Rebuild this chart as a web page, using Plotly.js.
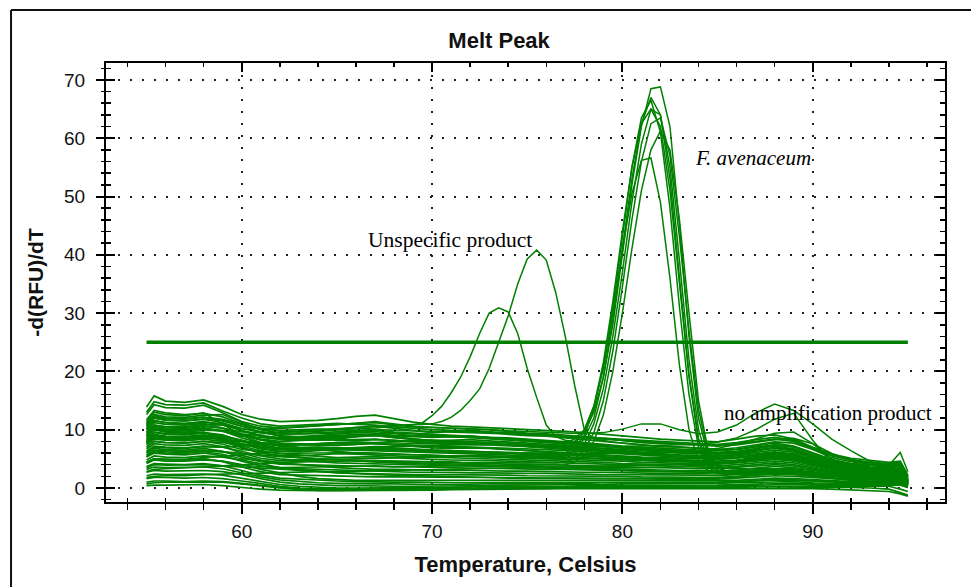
<!DOCTYPE html>
<html><head><meta charset="utf-8">
<script src="https://cdn.plot.ly/plotly-3.0.1.min.js"></script>
<style>html,body{margin:0;padding:0;background:#fff}#chart{width:971px;height:587px}</style>
</head><body><div id="chart"></div>
<script>
// Temperature grids (Celsius)
const T_BASE = [55,55.4,56,57,58,59,60,61,62,63,64,65,66,67,68,69,70,71,72,73,74,75,76,77,78,79,80,81,82,83,84,85,86,87,88,89,90,91,92,93,94,94.6,95];
const T_FINE = [55,55.4,56,57,58,59,60,62,64,66,67,68,68.5,69,69.5,70,70.5,71,71.5,72,72.5,73,73.5,74,74.5,75,75.5,76,76.5,77,77.5,78,78.5,79,79.5,80,80.5,81,81.5,82,82.5,83,83.5,84,84.5,85,85.5,86,87,88,89,90,91,92,93,94,94.6,95];

// Background (no product) melt curves, -d(RFU)/dT on T_BASE
const bg01 = [13.9,15.8,14.9,14.7,15.1,14.0,12.6,11.8,11.4,11.5,11.6,11.9,12.3,12.5,11.9,11.3,10.9,10.6,10.5,10.4,10.2,10.0,9.9,9.7,9.5,9.2,8.9,8.6,8.4,8.2,8.0,7.9,8.4,8.9,9.1,8.4,7.0,5.8,5.1,4.7,4.4,4.6,2.2];
const bg02 = [12.6,14.3,13.8,13.7,14.2,12.9,11.4,10.6,10.3,10.5,10.8,11.0,11.1,11.2,10.8,10.5,10.4,10.3,10.2,10.0,9.7,9.4,9.3,9.1,8.8,8.5,8.1,7.8,7.6,7.5,7.4,7.3,7.6,8.0,8.4,8.0,6.8,5.5,4.8,4.3,4.1,4.3,2.0];
const bg03 = [11.7,13.3,12.9,12.6,12.8,12.2,11.0,10.2,9.8,9.6,9.7,10.1,10.4,10.6,10.3,9.9,9.5,9.7,9.9,9.6,9.2,9.0,8.9,8.6,8.3,8.0,7.6,7.3,7.1,7.0,6.8,6.6,6.9,7.4,7.9,7.7,6.6,5.2,4.5,4.1,3.9,4.1,1.8];
const bg04 = [11.1,12.6,12.2,12.1,12.5,12.6,11.3,10.0,9.4,9.3,9.5,9.6,9.8,9.9,9.6,9.4,9.2,9.0,8.8,8.7,8.6,8.4,8.2,8.0,7.8,7.5,7.2,7.0,6.8,6.6,6.5,6.4,6.6,7.0,7.4,7.0,5.9,4.8,4.2,3.9,3.7,3.9,1.6];
const bg05 = [10.6,12.0,11.7,11.5,11.8,11.6,10.6,9.6,8.9,8.8,9.0,9.3,9.5,9.4,9.0,8.8,8.7,8.8,8.9,8.6,8.3,8.1,7.9,7.7,7.4,7.1,6.8,6.6,6.4,6.3,6.2,6.1,6.3,6.8,7.2,6.7,5.6,4.6,4.0,3.6,3.5,3.7,1.5];
const bg06 = [10.2,11.6,11.2,11.0,11.3,11.0,9.8,8.9,8.4,8.5,8.7,8.6,8.8,9.0,8.7,8.3,8.1,8.2,8.3,8.1,7.9,7.8,7.6,7.3,7.0,6.8,6.5,6.3,6.1,6.0,5.9,5.8,6.0,6.4,6.9,6.4,5.3,4.4,3.8,3.4,3.3,3.4,1.4];
const bg07 = [9.9,11.2,10.9,10.8,11.1,10.3,9.2,8.4,8.0,8.1,8.3,8.2,8.1,8.3,8.2,7.9,7.7,7.6,7.7,7.6,7.4,7.3,7.1,6.9,6.7,6.5,6.2,6.0,5.8,5.7,5.6,5.5,5.7,6.1,6.5,6.1,5.1,4.2,3.6,3.2,3.1,3.2,1.3];
const bg08 = [9.5,10.8,10.5,10.5,10.9,10.8,9.9,9.0,8.6,8.7,8.8,9.0,9.2,9.1,8.8,8.4,8.1,7.9,7.8,7.6,7.4,7.2,7.0,6.8,6.5,6.3,6.0,5.8,5.6,5.5,5.4,5.3,5.5,5.9,6.2,5.8,4.9,4.0,3.5,3.1,2.9,3.0,1.2];
const bg09 = [9.2,10.4,10.1,10.0,10.3,9.8,8.6,7.7,7.3,7.4,7.6,7.8,7.7,7.6,7.5,7.4,7.3,7.2,7.0,6.9,6.8,6.7,6.6,6.4,6.2,6.0,5.8,5.6,5.4,5.3,5.2,5.1,5.3,5.6,6.0,5.6,4.7,3.8,3.3,2.9,2.8,2.9,1.2];
const bg10 = [8.8,10.0,9.7,9.6,9.9,9.9,9.1,8.2,7.7,7.6,7.4,7.3,7.5,7.7,7.4,7.1,6.9,6.8,6.9,6.8,6.6,6.4,6.3,6.1,5.9,5.7,5.5,5.3,5.2,5.1,5.0,4.9,5.1,5.4,5.7,5.3,4.5,3.7,3.2,2.8,2.7,2.8,1.1];
const bg11 = [8.4,9.6,9.3,9.2,9.5,9.1,8.0,7.1,6.7,6.8,7.0,6.9,6.8,7.0,6.9,6.7,6.5,6.4,6.3,6.2,6.1,6.0,5.9,5.7,5.5,5.3,5.1,5.0,4.9,4.8,4.7,4.6,4.8,5.1,5.4,5.0,4.2,3.5,3.0,2.6,2.5,2.6,1.0];
const bg12 = [8.1,9.2,8.9,8.8,9.1,8.7,7.6,6.7,6.3,6.2,6.4,6.6,6.5,6.4,6.3,6.2,6.1,6.0,5.9,5.8,5.7,5.6,5.5,5.4,5.2,5.0,4.8,4.7,4.6,4.5,4.4,4.3,4.5,4.8,5.1,4.8,4.0,3.3,2.8,2.5,2.3,2.4,0.9];
const bg13 = [7.7,8.8,8.6,8.5,8.8,8.9,8.2,7.4,6.9,6.8,6.6,6.3,6.0,5.9,5.8,5.7,5.6,5.6,5.5,5.4,5.3,5.2,5.1,5.0,4.9,4.7,4.6,4.4,4.3,4.2,4.2,4.1,4.3,4.6,4.9,4.6,3.9,3.2,2.7,2.4,2.2,2.3,0.9];
const bg14 = [7.4,8.4,8.2,8.1,8.4,8.0,6.9,6.0,5.6,5.5,5.7,5.9,5.8,5.6,5.5,5.4,5.3,5.2,5.2,5.1,5.0,4.9,4.8,4.7,4.5,4.4,4.2,4.1,4.0,3.9,3.9,3.8,4.0,4.3,4.6,4.3,3.6,3.0,2.6,2.3,2.1,2.2,0.8];
const bg15 = [7.0,8.0,7.8,7.7,8.0,7.8,7.2,6.4,5.9,5.7,5.4,5.2,5.3,5.4,5.2,5.0,4.9,4.8,4.8,4.7,4.6,4.5,4.4,4.3,4.2,4.0,3.9,3.8,3.7,3.6,3.6,3.5,3.7,4.0,4.3,4.0,3.4,2.8,2.4,2.1,2.0,2.0,0.8];
const bg16 = [6.7,7.6,7.4,7.3,7.6,7.1,6.0,5.1,4.7,4.8,5.0,4.9,4.7,4.6,4.6,4.5,4.4,4.4,4.3,4.2,4.1,4.1,4.0,3.9,3.8,3.7,3.6,3.5,3.4,3.4,3.3,3.3,3.5,3.8,4.0,3.8,3.2,2.7,2.3,2.0,1.9,1.9,0.7];
const bg17 = [6.3,7.2,7.0,6.9,7.2,7.0,6.3,5.5,5.0,4.7,4.5,4.3,4.2,4.2,4.1,4.0,3.9,3.9,3.8,3.8,3.7,3.7,3.6,3.5,3.4,3.3,3.2,3.1,3.1,3.0,3.0,2.9,3.1,3.4,3.7,3.5,3.0,2.5,2.1,1.9,1.8,1.8,0.7];
const bg18 = [6.0,6.8,6.6,6.5,6.8,6.3,5.3,4.5,4.1,4.0,3.9,3.8,3.8,3.7,3.6,3.6,3.5,3.5,3.4,3.4,3.3,3.3,3.2,3.2,3.1,3.0,2.9,2.9,2.8,2.8,2.7,2.7,2.9,3.1,3.3,3.1,2.7,2.3,2.0,1.8,1.7,1.7,0.6];
const bg19 = [5.6,6.4,6.2,6.1,6.4,6.2,5.6,4.8,4.3,4.1,3.8,3.5,3.3,3.2,3.2,3.1,3.1,3.0,3.0,2.9,2.9,2.9,2.8,2.8,2.7,2.7,2.6,2.6,2.5,2.5,2.5,2.4,2.6,2.8,3.0,2.9,2.5,2.1,1.8,1.6,1.6,1.5,0.6];
const bg20 = [5.3,6.0,5.8,5.7,6.0,5.5,4.6,3.8,3.4,3.3,3.2,3.0,2.9,2.8,2.8,2.7,2.7,2.6,2.6,2.6,2.5,2.5,2.5,2.4,2.4,2.3,2.3,2.3,2.2,2.2,2.2,2.1,2.3,2.5,2.7,2.6,2.3,1.9,1.7,1.5,1.5,1.4,0.5];
const bg21 = [4.8,5.5,5.3,5.2,5.5,5.3,4.8,4.1,3.5,3.1,2.8,2.6,2.5,2.4,2.4,2.3,2.3,2.3,2.2,2.2,2.2,2.1,2.1,2.1,2.0,2.0,2.0,1.9,1.9,1.9,1.9,1.8,2.0,2.2,2.4,2.3,2.0,1.7,1.5,1.4,1.3,1.3,0.5];
const bg22 = [4.4,5.0,4.9,4.8,5.0,4.5,3.6,2.8,2.3,2.2,2.1,2.0,2.0,1.9,1.9,1.9,1.8,1.8,1.8,1.8,1.7,1.7,1.7,1.7,1.6,1.6,1.6,1.6,1.5,1.5,1.5,1.5,1.7,1.9,2.1,2.0,1.8,1.5,1.3,1.2,1.2,1.2,0.4];
const bg23 = [4.2,4.8,4.6,4.6,4.8,4.6,4.0,3.2,2.6,2.0,1.6,1.4,1.3,1.3,1.3,1.2,1.2,1.2,1.2,1.2,1.2,1.2,1.2,1.2,1.2,1.2,1.2,1.2,1.2,1.2,1.2,1.2,1.3,1.5,1.7,1.6,1.4,1.2,1.1,1.0,1.0,1.0,0.4];
const bg24 = [3.7,4.2,4.1,4.0,4.2,3.8,3.0,2.2,1.7,1.5,1.3,1.2,1.1,1.0,1.0,1.0,0.9,0.9,0.9,0.9,0.9,0.9,0.9,0.9,0.9,0.9,0.9,0.9,0.9,0.9,0.9,0.9,1.0,1.2,1.4,1.3,1.2,1.0,0.9,0.9,0.8,0.8,0.3];
const bg25 = [3.2,3.6,3.5,3.5,3.6,3.3,2.6,1.9,1.4,1.1,0.9,0.8,0.7,0.7,0.7,0.6,0.6,0.6,0.7,0.7,0.7,0.7,0.8,0.8,0.8,0.9,0.9,0.9,1.0,1.0,1.0,1.0,1.1,1.3,1.5,1.4,1.2,1.0,0.9,0.9,0.9,0.9,0.3];
const bg26 = [2.7,3.0,2.9,2.9,3.0,2.8,2.3,1.6,1.0,0.7,0.5,0.4,0.4,0.3,0.3,0.3,0.3,0.4,0.4,0.4,0.5,0.5,0.5,0.6,0.6,0.6,0.7,0.7,0.7,0.7,0.8,0.8,0.9,1.0,1.1,1.1,0.9,0.8,0.7,0.7,0.7,0.7,0.2];
const bg27 = [2.1,2.4,2.3,2.3,2.4,2.2,1.7,1.1,0.6,0.3,0.1,0.0,0.0,0.0,0.0,0.1,0.1,0.1,0.2,0.2,0.2,0.3,0.3,0.3,0.4,0.4,0.4,0.5,0.5,0.5,0.5,0.5,0.6,0.7,0.8,0.8,0.7,0.6,0.6,0.6,0.6,0.6,0.1];
const bg28 = [1.6,1.8,1.8,1.7,1.8,1.6,1.2,0.7,0.3,0.0,-0.1,-0.2,-0.2,-0.2,-0.1,-0.1,-0.1,0.0,0.0,0.0,0.1,0.1,0.1,0.2,0.2,0.2,0.3,0.3,0.3,0.3,0.3,0.4,0.4,0.5,0.6,0.6,0.5,0.5,0.5,0.5,0.5,0.5,0.1];
const bg29 = [1.0,1.2,1.2,1.1,1.2,1.1,0.8,0.4,0.1,-0.2,-0.3,-0.3,-0.3,-0.3,-0.3,-0.2,-0.2,-0.2,-0.1,-0.1,-0.1,0.0,0.0,0.0,0.1,0.1,0.1,0.2,0.2,0.2,0.2,0.2,0.3,0.3,0.4,0.4,0.4,0.3,0.3,0.4,0.3,-0.2,-0.6];
const bg30 = [0.7,0.9,1.0,1.0,1.1,1.0,0.7,0.3,0.0,-0.2,-0.4,-0.4,-0.4,-0.4,-0.3,-0.3,-0.3,-0.2,-0.2,-0.2,-0.1,-0.1,-0.1,0.0,0.0,0.0,0.1,0.1,0.1,0.1,0.1,0.1,0.1,0.2,0.2,0.2,0.2,0.2,0.1,0.0,-0.2,-0.8,-1.2];
const bg31 = [11.4,13.0,12.6,12.4,12.9,11.0,9.0,7.8,7.2,7.0,6.9,6.8,6.8,6.9,6.7,6.5,6.4,6.3,6.2,6.1,6.0,5.9,5.8,5.7,5.5,5.3,5.1,4.9,4.7,4.6,4.5,4.4,4.6,5.0,5.3,5.0,4.2,3.4,2.9,2.6,2.4,2.5,0.9];
const bg32 = [6.2,7.0,6.9,6.8,7.1,7.0,7.2,7.6,8.0,8.3,8.6,8.8,9.0,9.1,9.0,8.9,8.8,8.8,8.9,8.7,8.5,8.3,8.1,7.9,7.6,7.3,7.0,6.7,6.4,6.2,6.0,5.9,6.1,6.5,6.8,6.4,5.4,4.4,3.8,3.3,3.1,3.2,1.2];
const bg33 = [8.8,10.0,9.6,9.4,9.6,8.4,7.0,6.0,5.5,5.2,5.0,4.8,4.6,4.5,4.4,4.3,4.2,4.1,4.0,3.9,3.8,3.7,3.7,3.6,3.6,3.5,3.5,3.5,3.5,3.6,3.8,4.1,4.6,5.3,6.0,5.8,4.8,3.6,2.8,2.3,2.1,2.2,0.8];
const bg34 = [4.4,5.0,4.9,4.9,5.2,5.4,5.7,6.0,6.3,6.5,6.6,6.8,7.0,7.1,7.1,7.2,7.3,7.4,7.5,7.4,7.3,7.1,6.9,6.7,6.5,6.3,6.1,5.9,5.7,5.6,5.5,5.5,5.8,6.3,7.0,6.6,5.4,4.1,3.3,2.8,2.6,2.7,1.0];
const bg35 = [10.8,12.2,11.9,11.8,12.1,11.5,10.6,10.1,9.9,10.0,10.1,10.0,9.9,10.0,9.9,9.8,9.7,9.7,9.6,9.5,9.4,9.2,9.0,8.8,8.6,8.4,8.1,7.9,7.7,7.5,7.3,7.2,7.4,7.8,8.3,8.5,7.6,5.9,4.7,4.0,3.7,3.8,1.5];
const bg36 = [1.8,2.0,2.1,2.1,2.3,2.4,2.5,2.6,2.6,2.7,2.8,2.8,2.9,3.0,3.0,3.1,3.1,3.2,3.3,3.3,3.4,3.5,3.5,3.6,3.7,3.8,3.9,4.0,4.0,4.1,4.1,4.2,4.4,4.8,5.2,4.9,4.1,3.2,2.5,2.0,1.8,1.9,0.6];
const bg37 = [7.6,8.6,8.4,8.3,8.6,8.4,8.0,7.7,7.5,7.4,7.3,7.3,7.5,7.8,8.0,8.1,8.2,8.1,8.0,7.9,7.7,7.5,7.3,7.1,7.0,6.7,6.4,6.1,5.8,5.5,5.2,5.0,5.2,5.6,6.0,5.6,4.7,3.8,3.2,2.8,2.6,2.7,1.0];
const bg38 = [5.7,6.5,6.4,6.3,6.5,6.2,5.9,5.6,5.4,5.2,5.0,4.8,4.6,4.4,4.3,4.2,4.0,3.9,3.8,3.7,3.6,3.5,3.4,3.3,3.2,3.1,3.0,2.9,2.8,2.8,2.7,2.7,2.8,3.0,3.2,3.0,2.6,2.2,1.9,1.7,1.6,1.6,0.5];
const bg39 = [10.1,11.5,11.2,11.1,11.4,10.8,10.1,9.5,9.0,8.7,8.5,8.4,8.8,9.3,9.5,9.3,9.0,8.8,8.6,8.4,8.2,8.0,7.8,7.6,7.4,7.2,6.9,6.7,6.5,6.3,6.1,6.0,6.2,6.7,7.4,7.1,6.0,4.8,4.0,3.5,3.3,3.4,1.3];
const bg40 = [2.8,3.2,3.3,3.4,3.6,3.8,4.0,4.2,4.4,4.6,4.8,4.9,5.0,5.1,5.2,5.3,5.3,5.4,5.5,5.5,5.4,5.4,5.3,5.2,5.1,5.0,5.0,4.9,4.8,4.7,4.6,4.5,4.7,5.1,5.5,5.2,4.4,3.4,2.7,2.2,2.0,2.1,0.7];
const bg41 = [13.0,14.8,14.3,14.2,14.6,13.2,12.0,11.0,10.6,10.7,10.9,11.1,11.0,10.8,10.5,10.2,10.0,9.9,9.8,9.7,9.5,9.3,9.1,8.9,8.8,8.6,8.4,8.2,8.0,7.8,7.6,7.5,7.8,8.3,8.7,8.2,7.0,5.7,4.9,4.4,4.2,4.4,1.9];
const bg42 = [0.4,0.5,0.5,0.5,0.6,0.4,0.1,-0.2,-0.35,-0.45,-0.45,-0.45,-0.45,-0.4,-0.4,-0.35,-0.35,-0.3,-0.3,-0.2,-0.2,-0.1,-0.1,-0.1,0.0,0.0,0.0,0.0,0.0,0.0,-0.1,-0.1,-0.1,-0.1,0.0,0.0,-0.1,-0.2,-0.3,-0.4,-0.6,-1.0,-1.4];
const bg43 = [7.9,9.0,8.8,8.6,8.9,8.1,7.4,7.0,6.8,6.7,6.7,6.6,6.6,6.6,6.5,6.5,6.5,6.4,6.3,6.2,6.1,6.0,5.9,5.8,5.8,5.6,5.4,5.2,5.0,4.8,4.6,4.5,4.7,5.2,5.8,5.5,4.5,3.6,3.0,2.6,2.4,2.5,0.9];
const bg44 = [3.5,4.0,3.9,3.9,4.0,3.8,3.6,3.4,3.2,3.0,2.8,2.6,2.4,2.3,2.2,2.1,2.0,1.9,1.9,1.8,1.8,1.7,1.7,1.7,1.6,1.6,1.6,1.6,1.6,1.6,1.7,1.7,1.9,2.2,2.5,2.4,2.0,1.6,1.3,1.1,1.0,1.0,0.3];

// "no amplification product" curves on T_BASE
const na1 = [11.0,12.4,12.0,11.9,12.2,11.8,10.9,10.3,10.2,10.4,10.6,10.8,11.1,11.4,11.0,10.6,10.4,10.3,10.1,10.0,9.8,9.7,9.6,9.4,9.3,9.5,10.1,11.0,11.0,10.0,9.3,9.6,10.8,12.9,14.4,13.3,11.0,8.4,6.4,4.6,3.9,6.1,2.8];
const na2 = [8.5,9.6,9.3,9.2,9.5,9.0,8.1,7.5,7.3,7.4,7.6,7.8,7.9,7.8,7.7,7.6,7.5,7.5,7.4,7.4,7.3,7.3,7.2,7.2,7.1,7.1,7.1,7.2,7.3,7.3,7.5,7.9,8.6,10.0,11.8,12.8,8.2,4.3,3.1,2.7,2.5,2.6,1.0];
const na3 = [7.8,8.8,8.6,8.5,8.8,8.4,7.5,6.8,6.5,6.6,6.7,6.8,6.6,6.5,6.4,6.3,6.3,6.2,6.2,6.1,6.1,6.0,6.0,5.9,5.9,5.9,5.9,6.0,6.1,6.2,6.4,6.8,7.5,8.4,9.4,9.6,7.6,5.0,3.5,2.9,2.6,2.7,1.0];

// "Unspecific product" curves on T_FINE
const un1 = [9.5,10.6,10.3,10.2,10.5,10.3,9.6,9.5,9.8,10.1,10.3,10.6,10.7,10.8,11.2,12.4,14.0,16.3,19.0,22.5,26.5,30.0,30.9,30.2,26.5,20.5,15.5,10.8,8.8,8.2,8.0,7.8,7.6,7.4,7.2,7.0,6.9,6.8,6.7,6.6,6.5,6.4,6.3,6.2,6.1,6.0,6.0,6.1,6.5,6.9,6.4,5.3,4.3,3.7,3.3,3.2,3.4,1.2];
const un2 = [9.0,10.2,9.9,9.8,10.1,9.7,8.9,9.6,10.0,10.4,10.6,10.8,10.9,10.9,10.9,11.0,11.4,12.1,13.3,15.0,17.0,20.5,25.0,29.5,35.0,39.3,40.8,39.1,33.5,26.0,17.5,10.0,8.4,8.1,7.9,7.7,7.5,7.4,7.3,7.2,7.1,7.0,6.9,6.8,6.7,6.6,6.6,6.7,7.2,7.7,7.2,6.0,4.9,4.2,3.8,3.6,3.8,1.4];

// "F. avenaceum" product curves on T_FINE
const fa1 = [10.5,12.0,11.6,11.5,11.8,11.2,10.2,9.2,9.3,9.6,9.7,9.3,9.1,9.0,8.9,8.9,8.8,8.8,8.7,8.7,8.6,8.5,8.4,8.3,8.2,8.1,8.0,7.9,7.8,7.6,8.0,9.5,13,19,28,40,52,62,68.5,68.8,62,45,26,12,5.5,3.8,3.4,3.3,3.3,3.4,3.3,3.0,2.6,2.3,2.1,2.0,2.2,0.8];
const fa2 = [8.3,9.5,9.2,9.1,9.4,8.9,8.0,7.4,7.5,7.6,7.7,7.4,7.3,7.2,7.1,7.1,7.0,7.0,6.9,6.9,6.8,6.8,6.7,6.6,6.5,6.4,6.3,6.2,6.1,6.0,7.0,9.0,13.5,21,31,43,55,63.5,66.5,61,48,31,16,7.0,3.6,2.6,2.4,2.4,2.5,2.6,2.5,2.3,2.0,1.8,1.7,1.6,1.7,0.6];
const fa3 = [7.0,8.0,7.8,7.7,8.0,7.5,6.6,5.9,6.0,6.1,6.0,5.8,5.8,5.7,5.7,5.6,5.6,5.5,5.5,5.4,5.4,5.3,5.3,5.2,5.2,5.1,5.1,5.0,5.0,5.0,6.0,7.5,11,17,26,37,49,59,65,64,55,39,22,10,4.5,3.0,2.7,2.6,2.7,2.8,2.7,2.5,2.2,2.0,1.8,1.7,1.8,0.6];
const fa4 = [5.4,6.2,6.0,5.9,6.2,5.8,5.0,4.4,4.5,4.6,4.7,4.6,4.6,4.6,4.5,4.5,4.5,4.5,4.4,4.4,4.4,4.4,4.4,4.3,4.3,4.3,4.3,4.3,4.3,4.5,5.0,6.5,9.5,15,23.5,34.5,46,56,62.5,63.5,57,43,27,13.5,6.0,3.5,2.9,2.8,2.8,3.0,2.9,2.6,2.3,2.1,1.9,1.8,2.0,0.7];
const fa5 = [4.4,5.0,4.9,4.8,5.0,4.6,3.9,3.5,3.6,3.7,3.8,3.7,3.7,3.7,3.7,3.7,3.7,3.8,3.8,3.8,3.8,3.8,3.8,3.9,3.9,3.9,3.9,3.9,4.0,4.0,4.5,5.5,8.0,12.5,20,30,41,51,58,61.2,58,46,30,15,6.5,3.5,2.8,2.6,2.6,2.8,2.7,2.4,2.1,1.9,1.7,1.6,1.8,0.6];
const fa6 = [9.0,10.2,9.9,9.8,10.1,9.8,9.0,8.3,8.2,8.3,8.4,8.1,8.0,8.0,7.9,7.9,7.8,7.8,7.7,7.7,7.6,7.6,7.5,7.4,7.3,7.2,7.1,7.0,7.0,7.5,8.5,10,14,20.5,30,41,50.5,56.2,56.6,49,36,21,10,4.5,3.0,2.5,2.3,2.3,2.4,2.5,2.4,2.2,2.0,1.8,1.6,1.5,1.6,0.5];
const fa7 = [8.0,9.0,8.8,8.7,9.0,8.6,7.6,6.7,6.6,6.7,6.8,6.5,6.4,6.4,6.3,6.3,6.2,6.2,6.1,6.1,6.0,6.0,5.9,5.9,5.8,5.8,5.7,5.6,5.5,5.5,6.5,8.5,12,19,29,41,53,62.5,67,64,53,36,19.5,8.5,4.0,3.0,2.6,2.5,2.6,2.7,2.6,2.4,2.1,1.9,1.7,1.6,1.7,0.6];
const fa8 = [9.6,10.8,10.5,10.4,10.7,10.2,9.3,8.6,8.7,8.9,9.0,8.6,8.5,8.4,8.3,8.2,8.1,8.0,7.9,7.8,7.7,7.6,7.5,7.4,7.3,7.2,7.1,7.0,6.8,6.6,7.5,9.8,14,21.5,32,44,55,62.5,65,62,51,35,19,8.0,4.0,3.1,2.8,2.7,2.8,2.9,2.8,2.6,2.3,2.1,1.9,1.8,1.9,0.7];

// Threshold line
const THRESH_X = [55, 95];
const THRESH_Y = [25, 25];

const X_RANGE = [52.87, 96.95];
const Y_RANGE = [-2.4, 72.9];
const X_TICKS = [60, 70, 80, 90];
const Y_TICKS = [0, 10, 20, 30, 40, 50, 60, 70];

const GREEN = '#008000';
const BG = [bg01,bg02,bg03,bg04,bg05,bg06,bg07,bg08,bg09,bg10,bg11,bg12,bg13,bg14,bg15,bg16,bg17,bg18,bg19,bg20,bg21,bg22,
            bg23,bg24,bg25,bg26,bg27,bg28,bg29,bg30,bg31,bg32,bg33,bg34,bg35,bg36,bg37,bg38,bg39,bg40,bg41,bg42,bg43,bg44];
const NA = [na1, na2, na3];
const FINE = [un1, un2, fa1, fa2, fa3, fa4, fa5, fa6, fa7, fa8];

const traces = [];
BG.forEach(y => traces.push({x: T_BASE, y: y, type: 'scatter', mode: 'lines', line: {color: GREEN, width: 1.7}, hoverinfo: 'skip'}));
NA.forEach(y => traces.push({x: T_BASE, y: y, type: 'scatter', mode: 'lines', line: {color: GREEN, width: 1.5}, hoverinfo: 'skip'}));
FINE.forEach(y => traces.push({x: T_FINE, y: y, type: 'scatter', mode: 'lines', line: {color: GREEN, width: 1.5}, hoverinfo: 'skip'}));
traces.push({x: THRESH_X, y: THRESH_Y, xaxis: 'x2', yaxis: 'y2', type: 'scatter', mode: 'lines', line: {color: GREEN, width: 3.5}, hoverinfo: 'skip'});

const SANS = 'Liberation Sans, Arial, sans-serif';
const SERIF = 'Liberation Serif, Times New Roman, serif';
const INK = '#111';

const layout = {
  width: 971, height: 587,
  margin: {l: 106, r: 26, t: 63, b: 85},
  paper_bgcolor: '#fff', plot_bgcolor: '#fff',
  showlegend: false,
  font: {family: SANS, color: INK},
  title: {text: '<b>Melt Peak</b>', font: {family: SANS, size: 22, color: INK},
          x: 0.514, xref: 'container', xanchor: 'center', y: 0.932, yref: 'container', yanchor: 'middle'},
  xaxis: {
    range: X_RANGE, tickvals: X_TICKS, ticks: 'outside', ticklen: 10, tickwidth: 2, tickcolor: '#000',
    showline: true, linecolor: '#000', linewidth: 2, mirror: true,
    showgrid: true, gridcolor: '#222', gridwidth: 2, griddash: '2px,10px', zeroline: false,
    minor: {dtick: 2, tick0: 0, ticks: 'outside', ticklen: 6, tickwidth: 1.5, tickcolor: '#000', showgrid: false},
    tickfont: {family: SANS, size: 19, color: INK}, ticklabelstandoff: 1,
    title: {text: '<b>Temperature, Celsius</b>', font: {family: SANS, size: 22, color: INK}, standoff: 16}
  },
  yaxis: {
    range: Y_RANGE, tickvals: Y_TICKS, ticks: 'outside', ticklen: 8, tickwidth: 2, tickcolor: '#000',
    showline: true, linecolor: '#000', linewidth: 2, mirror: true,
    showgrid: true, gridcolor: '#222', gridwidth: 2, griddash: '2px,10px', zeroline: false,
    minor: {dtick: 2, tick0: 0, ticks: 'outside', ticklen: 3, tickwidth: 1.5, tickcolor: '#000', showgrid: false},
    tickfont: {family: SANS, size: 19, color: INK}, ticklabelstandoff: 7,
    title: {text: '<b>-d(RFU)/dT</b>', font: {family: SANS, size: 21, color: INK}, standoff: 15}
  },
  xaxis2: {
    overlaying: 'x', anchor: 'y2', range: X_RANGE, tickvals: X_TICKS, ticks: 'inside', ticklen: 9, tickwidth: 2, tickcolor: '#000',
    mirror: 'ticks', showline: true, linecolor: '#000', linewidth: 2, showticklabels: false, showgrid: false, zeroline: false,
    minor: {dtick: 2, tick0: 0, ticks: 'inside', ticklen: 4, tickwidth: 1.5, tickcolor: '#000', showgrid: false}
  },
  yaxis2: {
    overlaying: 'y', anchor: 'x2', range: Y_RANGE, tickvals: Y_TICKS, ticks: 'inside', ticklen: 9, tickwidth: 2, tickcolor: '#000',
    mirror: 'ticks', showline: true, linecolor: '#000', linewidth: 2, showticklabels: false, showgrid: false, zeroline: false,
    minor: {dtick: 2, tick0: 0, ticks: 'inside', ticklen: 5, tickwidth: 1.5, tickcolor: '#000', showgrid: false}
  },
  annotations: [
    {text: 'Unspecific product', x: 70.92, y: 42.5, xref: 'x', yref: 'y', showarrow: false, xanchor: 'center', yanchor: 'middle',
     font: {family: SERIF, size: 21.5, color: '#000'}},
    {text: '<i>F. avenaceum</i>', x: 86.84, y: 56.6, xref: 'x', yref: 'y', showarrow: false, xanchor: 'center', yanchor: 'middle',
     font: {family: SERIF, size: 21, color: '#000'}},
    {text: 'no amplification product', x: 90.78, y: 12.9, xref: 'x', yref: 'y', showarrow: false, xanchor: 'center', yanchor: 'middle',
     font: {family: SERIF, size: 21, color: '#000'}}
  ],
  shapes: [
    {type: 'line', xref: 'paper', yref: 'paper', x0: -0.1132, x1: -0.1132, y0: -0.25, y1: 1.1207, line: {color: '#111', width: 2}},
    {type: 'line', xref: 'paper', yref: 'paper', x0: -0.1132, x1: 1.05, y0: 1.1207, y1: 1.1207, line: {color: '#111', width: 2}}
  ]
};

Plotly.newPlot('chart', traces, layout, {displayModeBar: false, staticPlot: true});
</script>
</body></html>
